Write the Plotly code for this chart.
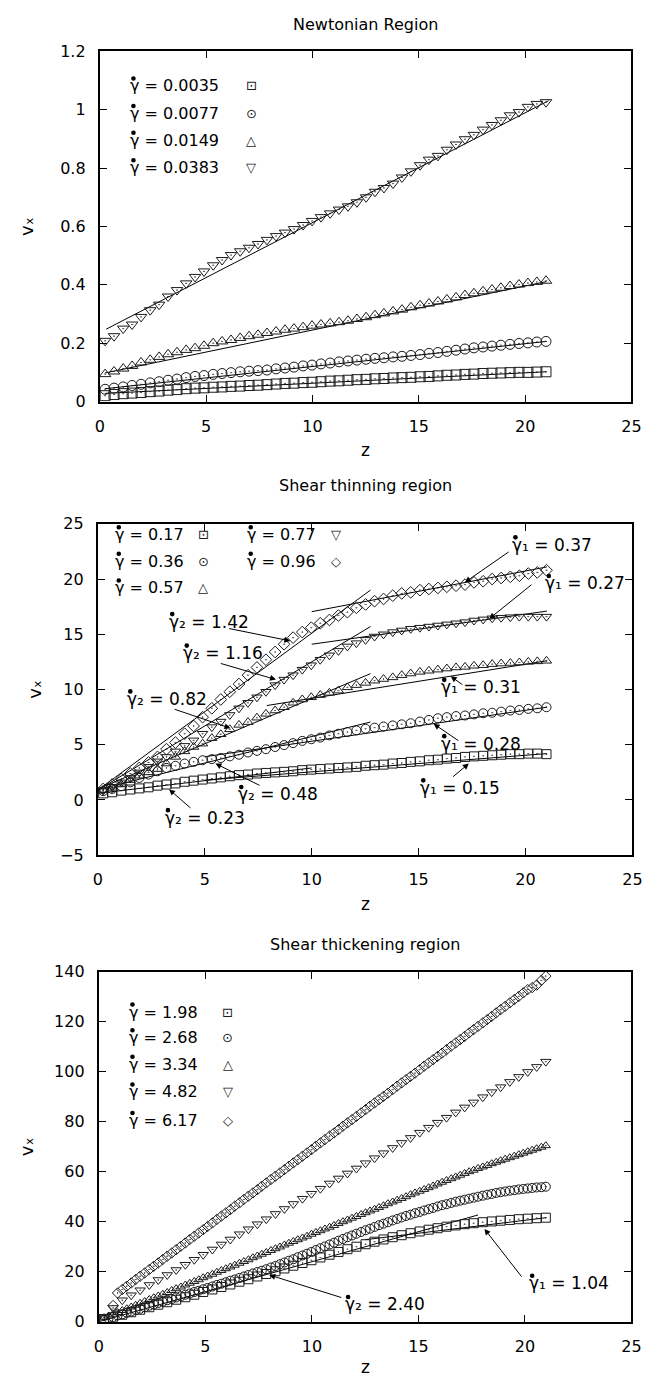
import plotly.graph_objects as go

W, H = 662, 1385
FONT = "DejaVu Sans, Liberation Sans, Arial, sans-serif"
GAM = "\u03b3"
SUBS = {"1": "\u2081", "2": "\u2082"}
VX = "v\u2093"

# ---------------- grids (z positions) ----------------
z50 = [0.25, 0.67, 1.10, 1.52, 1.94, 2.37, 2.79, 3.21, 3.63, 4.06, 4.48, 4.90, 5.33, 5.75,
       6.17, 6.60, 7.02, 7.44, 7.86, 8.29, 8.71, 9.13, 9.56, 9.98, 10.40, 10.83, 11.25,
       11.67, 12.09, 12.52, 12.94, 13.36, 13.79, 14.21, 14.63, 15.06, 15.48, 15.90, 16.32,
       16.75, 17.17, 17.59, 18.02, 18.44, 18.86, 19.29, 19.71, 20.13, 20.55, 20.98]

z99 = [0.25, 0.46, 0.67, 0.88, 1.10, 1.31, 1.52, 1.73, 1.94, 2.15, 2.37, 2.58, 2.79, 3.00,
       3.21, 3.42, 3.63, 3.85, 4.06, 4.27, 4.48, 4.69, 4.90, 5.11, 5.33, 5.54, 5.75, 5.96,
       6.17, 6.38, 6.60, 6.81, 7.02, 7.23, 7.44, 7.65, 7.86, 8.08, 8.29, 8.50, 8.71, 8.92,
       9.13, 9.34, 9.56, 9.77, 9.98, 10.19, 10.40, 10.61, 10.83, 11.04, 11.25, 11.46, 11.67,
       11.88, 12.09, 12.31, 12.52, 12.73, 12.94, 13.15, 13.36, 13.57, 13.79, 14.00, 14.21,
       14.42, 14.63, 14.84, 15.06, 15.27, 15.48, 15.69, 15.90, 16.11, 16.32, 16.54, 16.75,
       16.96, 17.17, 17.38, 17.59, 17.80, 18.02, 18.23, 18.44, 18.65, 18.86, 19.07, 19.29,
       19.50, 19.71, 19.92, 20.13, 20.34, 20.55, 20.77, 20.98]

# ---------------- Panel 1: Newtonian region ----------------
newt_labels = ["0.0035", "0.0077", "0.0149", "0.0383"]
newt_sq = [0.020, 0.024, 0.027, 0.029, 0.031, 0.034, 0.036, 0.039, 0.041, 0.044, 0.046, 0.047,
           0.049, 0.050, 0.052, 0.053, 0.055, 0.056, 0.058, 0.060, 0.062, 0.063, 0.065, 0.066,
           0.068, 0.070, 0.071, 0.073, 0.075, 0.076, 0.078, 0.079, 0.081, 0.082, 0.083, 0.085,
           0.086, 0.088, 0.090, 0.091, 0.093, 0.094, 0.096, 0.097, 0.098, 0.099, 0.100, 0.100,
           0.101, 0.102]
newt_ci = [0.042, 0.046, 0.050, 0.055, 0.059, 0.064, 0.068, 0.073, 0.077, 0.082, 0.086, 0.089,
           0.093, 0.096, 0.099, 0.102, 0.104, 0.106, 0.108, 0.112, 0.115, 0.118, 0.122, 0.125,
           0.129, 0.132, 0.136, 0.139, 0.142, 0.145, 0.148, 0.150, 0.153, 0.155, 0.158, 0.161,
           0.165, 0.168, 0.172, 0.176, 0.180, 0.184, 0.187, 0.190, 0.193, 0.196, 0.199, 0.201,
           0.204, 0.206]
newt_tu = [0.094, 0.103, 0.113, 0.122, 0.134, 0.143, 0.153, 0.162, 0.169, 0.177, 0.183, 0.191,
           0.200, 0.206, 0.211, 0.218, 0.224, 0.229, 0.235, 0.240, 0.246, 0.250, 0.255, 0.260,
           0.264, 0.268, 0.272, 0.277, 0.283, 0.289, 0.296, 0.302, 0.309, 0.315, 0.323, 0.330,
           0.336, 0.343, 0.350, 0.357, 0.365, 0.371, 0.378, 0.384, 0.390, 0.396, 0.401, 0.406,
           0.410, 0.414]
newt_td = [0.208, 0.224, 0.250, 0.264, 0.290, 0.313, 0.332, 0.360, 0.382, 0.405, 0.427, 0.446,
           0.467, 0.485, 0.502, 0.515, 0.527, 0.540, 0.554, 0.567, 0.579, 0.591, 0.605, 0.619,
           0.632, 0.645, 0.658, 0.669, 0.683, 0.700, 0.719, 0.732, 0.747, 0.768, 0.789, 0.810,
           0.829, 0.842, 0.863, 0.881, 0.899, 0.914, 0.932, 0.948, 0.964, 0.981, 0.992, 1.010,
           1.020, 1.026]
newt_fit_z = [[0.25, 21.0], [0.25, 21.0], [0.25, 21.0], [0.3, 21.1]]
newt_fit_v = [[0.028, 0.102], [0.044, 0.206], [0.098, 0.411], [0.248, 1.031]]

# ---------------- Panel 2: Shear thinning region ----------------
thin_labels = ["0.17", "0.36", "0.57", "0.77", "0.96"]
thin_sq = [0.6, 0.7, 0.85, 0.95, 1.05, 1.15, 1.3, 1.4, 1.5, 1.65, 1.75, 1.85, 1.95, 2.05, 2.15,
           2.25, 2.3, 2.4, 2.45, 2.5, 2.55, 2.6, 2.7, 2.75, 2.8, 2.85, 2.9, 2.95, 3.0, 3.1, 3.15,
           3.2, 3.3, 3.35, 3.45, 3.5, 3.6, 3.65, 3.75, 3.8, 3.9, 3.95, 4.0, 4.05, 4.1, 4.15, 4.15,
           4.2, 4.2, 4.15]
thin_ci = [0.8, 1.0, 1.25, 1.6, 2.0, 2.3, 2.6, 2.9, 3.1, 3.3, 3.45, 3.6, 3.7, 3.8, 3.95, 4.1,
           4.3, 4.45, 4.6, 4.8, 4.97, 5.15, 5.35, 5.5, 5.65, 5.85, 6.0, 6.15, 6.3, 6.45, 6.55,
           6.65, 6.75, 6.85, 6.95, 7.1, 7.25, 7.4, 7.5, 7.6, 7.65, 7.75, 7.85, 7.9, 8.0, 8.1,
           8.15, 8.25, 8.3, 8.4]
thin_tu = [0.9, 1.1, 1.4, 1.8, 2.2, 2.5, 2.8, 3.3, 3.9, 4.4, 4.8, 5.1, 5.6, 5.95, 6.4, 6.8,
           7.05, 7.45, 7.8, 8.1, 8.4, 8.8, 9.1, 9.3, 9.5, 9.7, 9.9, 10.2, 10.4, 10.6, 10.8,
           10.95, 11.1, 11.3, 11.45, 11.6, 11.7, 11.8, 11.9, 12.0, 12.05, 12.15, 12.2, 12.3,
           12.35, 12.4, 12.45, 12.5, 12.55, 12.6]
thin_td = [0.9, 1.2, 1.6, 2.0, 2.5, 3.0, 3.5, 3.9, 4.4, 4.9, 5.4, 6.0, 6.6, 7.1, 7.7, 8.3, 8.8,
           9.3, 9.8, 10.4, 10.9, 11.3, 11.8, 12.2, 12.7, 13.1, 13.5, 13.9, 14.2, 14.5, 14.8,
           15.0, 15.2, 15.35, 15.5, 15.6, 15.7, 15.8, 15.9, 16.0, 16.1, 16.25, 16.35, 16.45,
           16.5, 16.55, 16.6, 16.6, 16.6, 16.6]
thin_di = [1.0, 1.4, 1.9, 2.4, 2.9, 3.4, 3.9, 4.6, 5.2, 6.0, 6.7, 7.5, 8.3, 9.1, 9.8, 10.5,
           11.3, 12.0, 12.7, 13.4, 14.1, 14.7, 15.2, 15.6, 16.0, 16.3, 16.7, 17.0, 17.4, 17.7,
           18.0, 18.2, 18.5, 18.7, 18.8, 19.0, 19.1, 19.2, 19.3, 19.4, 19.5, 19.7, 19.8, 20.0,
           20.1, 20.2, 20.3, 20.5, 20.6, 20.8]
# fitted straight lines (gamma_2 near the wall, gamma_1 further out)
thin_fit_z = [[0.0, 10.0], [5.0, 21.0],       # squares
              [0.0, 12.75], [5.0, 21.0],      # circles
              [0.0, 12.75], [7.9, 21.0],      # triangles up
              [0.0, 12.75], [10.0, 21.0],     # triangles down
              [0.0, 12.75], [10.0, 21.0]]     # diamonds
thin_fit_v = [[0.6, 2.9], [1.8, 4.2],
              [0.95, 7.06], [3.92, 8.4],
              [0.99, 11.44], [8.55, 12.6],
              [0.9, 15.7], [14.1, 17.1],
              [0.9, 19.0], [17.05, 21.1]]
# labels: subscript, value, left edge / centre of label, arrow tail, arrow tip
thin_ann_sub = ["1", "1", "2", "2", "2", "1", "1", "2", "1", "2"]
thin_ann_val = ["0.37", "0.27", "1.42", "1.16", "0.82", "0.31", "0.28", "0.48", "0.15", "0.23"]
thin_ann_lz = [19.28, 20.84, 3.23, 3.91, 1.27, 15.95, 15.95, 6.46, 14.97, 3.03]
thin_ann_lv = [23.1, 19.6, 16.15, 13.3, 9.15, 10.2, 5.1, 0.5, 1.1, -1.6]
thin_ann_az = [19.28, 20.35, 6.07, 5.68, 3.52, 17.12, 16.93, 7.63, 16.54, 4.4]
thin_ann_av = [22.55, 19.6, 15.55, 12.4, 8.26, 10.34, 5.28, 1.26, 2.0, -0.83]
thin_ann_pz = [17.16, 18.3, 9.0, 8.33, 6.2, 16.5, 15.7, 5.5, 17.35, 3.33]
thin_ann_pv = [19.7, 16.4, 14.4, 10.9, 6.5, 11.2, 6.9, 3.3, 3.3, 0.96]

# ---------------- Panel 3: Shear thickening region ----------------
thick_labels = ["1.98", "2.68", "3.34", "4.82", "6.17"]
thick_sq = [0.8, 1.8, 2.8, 3.8, 4.8, 5.8, 6.8, 7.8, 8.8, 9.8, 10.8, 11.9, 12.9, 13.9, 14.9,
            16.0, 17.0, 18.1, 19.1, 20.2, 21.3, 22.4, 23.5, 24.6, 25.7, 26.8, 27.9, 29.0, 30.0,
            31.0, 32.0, 32.9, 33.8, 34.6, 35.4, 36.1, 36.8, 37.4, 38.0, 38.5, 39.0, 39.4, 39.8,
            40.1, 40.4, 40.7, 41.0, 41.2, 41.4, 41.6]
thick_ci = [0.8, 1.4, 1.9, 2.5, 3.0, 3.6, 4.1, 4.7, 5.2, 5.8, 6.4, 6.9, 7.5, 8.0, 8.6, 9.1,
            9.7, 10.2, 10.8, 11.3, 11.9, 12.4, 13.0, 13.5, 14.1, 14.7, 15.2, 15.8, 16.4, 16.9,
            17.5, 18.1, 18.7, 19.3, 19.9, 20.4, 21.0, 21.7, 22.3, 23.0, 23.7, 24.4, 25.0, 25.8,
            26.5, 27.2, 27.9, 28.7, 29.4, 30.1, 30.9, 31.6, 32.4, 33.1, 33.8, 34.5, 35.2, 35.9,
            36.6, 37.2, 37.9, 38.6, 39.2, 39.8, 40.5, 41.1, 41.7, 42.3, 42.8, 43.4, 43.9, 44.5,
            45.0, 45.5, 46.1, 46.6, 47.0, 47.5, 48.0, 48.4, 48.8, 49.2, 49.6, 50.0, 50.4, 50.8,
            51.1, 51.5, 51.8, 52.1, 52.4, 52.6, 52.9, 53.1, 53.3, 53.5, 53.7, 53.8, 54.0]
thick_tu = [1.6, 2.3, 3.0, 3.7, 4.5, 5.2, 5.9, 6.6, 7.4, 8.1, 8.9, 9.6, 10.3, 11.0, 11.7, 12.5,
            13.2, 13.9, 14.7, 15.4, 16.1, 16.8, 17.6, 18.3, 19.0, 19.8, 20.5, 21.2, 21.9, 22.6,
            23.4, 24.1, 24.8, 25.6, 26.3, 27.0, 27.7, 28.5, 29.2, 29.9, 30.7, 31.4, 32.1, 32.8,
            33.5, 34.2, 35.0, 35.7, 36.4, 37.1, 37.8, 38.5, 39.3, 40.0, 40.7, 41.4, 42.1, 42.9,
            43.6, 44.3, 45.0, 45.7, 46.4, 47.2, 47.9, 48.6, 49.3, 50.0, 50.8, 51.5, 52.2, 52.9,
            53.6, 54.3, 55.1, 55.8, 56.5, 57.2, 57.9, 58.6, 59.3, 60.0, 60.6, 61.3, 61.9, 62.5,
            63.2, 63.8, 64.4, 65.0, 65.6, 66.2, 66.8, 67.4, 68.0, 68.6, 69.2, 69.8, 70.4]
thick_td = [2.0, 5.5, 8.6, 10.6, 12.6, 14.7, 16.7, 18.7, 20.7, 22.8, 24.8, 26.8, 28.9, 30.9,
            32.9, 35.0, 37.0, 39.0, 41.0, 43.1, 45.1, 47.1, 49.2, 51.2, 53.2, 55.3, 57.3, 59.3,
            61.3, 63.4, 65.4, 67.4, 69.5, 71.5, 73.5, 75.6, 77.6, 79.6, 81.6, 83.7, 85.7, 87.7,
            89.8, 91.8, 93.8, 95.9, 97.9, 99.9, 101.9, 104.0]
thick_di = [None, None, 6.5, 11.5, 12.9, 14.2, 15.5, 16.9, 18.2, 19.5, 20.9, 22.2, 23.5, 24.9,
            26.2, 27.5, 28.8, 30.2, 31.5, 32.9, 34.2, 35.5, 36.8, 38.1, 39.5, 40.9, 42.2, 43.5,
            44.8, 46.2, 47.5, 48.9, 50.2, 51.5, 52.8, 54.2, 55.5, 56.9, 58.2, 59.5, 60.8, 62.2,
            63.5, 64.8, 66.2, 67.5, 68.8, 70.2, 71.5, 72.8, 74.2, 75.5, 76.8, 78.2, 79.5, 80.8,
            82.1, 83.5, 84.8, 86.2, 87.5, 88.8, 90.1, 91.4, 92.8, 94.2, 95.5, 96.8, 98.1, 99.4,
            100.8, 102.2, 103.5, 104.8, 106.1, 107.4, 108.8, 110.2, 111.5, 112.8, 114.1, 115.5,
            116.8, 118.1, 119.5, 120.8, 122.1, 123.5, 124.8, 126.1, 127.5, 128.8, 130.1, 131.5,
            132.8, 133.6, 134.6, 136.5, 138.2]
thick_fit_z = [[0.0, 17.8], [12.5, 21.0]]
thick_fit_v = [[0.0, 42.7], [32.8, 41.6]]
thick_ann_sub = ["2", "1"]
thick_ann_val = ["2.40", "1.04"]
thick_ann_lz = [11.45, 20.09]
thick_ann_lv = [6.9, 15.4]
thick_ann_az = [11.45, 19.9]
thick_ann_av = [9.5, 17.4]
thick_ann_pz = [8.0, 18.1]
thick_ann_pv = [18.7, 37.1]

# ---------------- helpers ----------------
SYM = ["square-open-dot", "circle-open-dot", "triangle-up-open-dot",
       "triangle-down-open-dot", "diamond-open-dot"]
GLYPH = ["\u22a1", "\u2299", "\u25b3", "\u25bd", "\u25c7"]
INK = "#1a1a1a"

fig = go.Figure()


def add_markers(xs, ys, sym, size, ax):
    fig.add_trace(go.Scatter(
        x=xs, y=ys, mode="markers", xaxis="x" + ax, yaxis="y" + ax, showlegend=False,
        marker=dict(symbol=sym, size=size, color=INK, line=dict(width=1, color=INK))))


def add_line(xs, ys, ax):
    fig.add_trace(go.Scatter(
        x=xs, y=ys, mode="lines", xaxis="x" + ax, yaxis="y" + ax, showlegend=False,
        line=dict(color="black", width=1)))


# panel 1
for zz, vv in zip(newt_fit_z, newt_fit_v):
    add_line(zz, vv, "")
for i, s in enumerate([newt_sq, newt_ci, newt_tu, newt_td]):
    add_markers(z50, s, SYM[i], 10, "")

# panel 2
for zz, vv in zip(thin_fit_z, thin_fit_v):
    add_line(zz, vv, "2")
for i, s in enumerate([thin_sq, thin_ci, thin_tu, thin_td, thin_di]):
    add_markers(z50, s, SYM[i], 9, "2")

# panel 3
for zz, vv in zip(thick_fit_z, thick_fit_v):
    add_line(zz, vv, "3")
add_markers(z50, thick_sq, SYM[0], 9, "3")
add_markers(z99, thick_ci, SYM[1], 9, "3")
add_markers(z99, thick_tu, SYM[2], 8, "3")
add_markers(z50, thick_td, SYM[3], 9, "3")
add_markers(z99, thick_di, SYM[4], 8, "3")


def px(x):
    return x / W


def py(y):
    return 1 - y / H


axis_common = dict(showline=True, linecolor="black", linewidth=2, mirror="ticks",
                   ticks="inside", ticklen=7, tickwidth=1, tickcolor="black",
                   showgrid=False, zeroline=False, ticklabelstandoff=9,
                   tickfont=dict(family=FONT, size=16, color="black"))

panels = [  # (left, right, top, bottom) in px, yrange, dtick
    ((97, 641, 43, 398), [0, 1.2], 0.2),
    ((95, 642, 522, 858), [-5, 25], 5),
    ((96, 641, 976, 1331), [0, 140], 20),
]
layout_axes = {}
for k, ((l, r, t, b), yr, dt) in enumerate(panels):
    sfx = "" if k == 0 else str(k + 1)
    layout_axes["xaxis" + sfx] = dict(axis_common, domain=[px(l), px(r)], range=[0, 25],
                                      dtick=5, anchor="y" + sfx)
    layout_axes["yaxis" + sfx] = dict(axis_common, domain=[py(b), py(t)], range=yr,
                                      dtick=dt, anchor="x" + sfx)

ann = []
shapes = []
titles = ["Newtonian Region", "Shear thinning region", "Shear thickening region"]
title_y = [16, 483, 949]
zlab_y = [447, 907, 1377]
vx_x = [22, 30, 22]
for k, ((l, r, t, b), yr, dt) in enumerate(panels):
    cx = (l + r) / 2
    ann.append(dict(text=titles[k], x=px(cx), y=py(title_y[k]), xref="paper", yref="paper",
                    showarrow=False, xanchor="center", yanchor="middle",
                    font=dict(family=FONT, size=16, color="black")))
    ann.append(dict(text="z", x=px(cx), y=py(zlab_y[k]), xref="paper", yref="paper",
                    showarrow=False, xanchor="center", yanchor="middle",
                    font=dict(family=FONT, size=17, color="black")))
    ann.append(dict(text=VX, x=px(vx_x[k]), y=py((t + b) / 2), xref="paper",
                    yref="paper", showarrow=False, textangle=-90, xanchor="center",
                    yanchor="middle", font=dict(family=FONT, size=18, color="black")))


def gamma_dot(x, y, xref, yref):
    # the time-derivative dot over the gamma, offset in pixels from the label anchor
    shapes.append(dict(type="circle", xref=xref, yref=yref, xsizemode="pixel",
                       ysizemode="pixel", xanchor=x, yanchor=y, x0=3.0, x1=7.6,
                       y0=5.2, y1=9.8, fillcolor="black", line=dict(width=0)))


def label_ann(body, x, y, xref, yref, size=16):
    ann.append(dict(text=body, x=x, y=y, xref=xref, yref=yref, showarrow=False,
                    xanchor="left", yanchor="middle", align="left",
                    font=dict(family=FONT, size=size, color="black")))
    gamma_dot(x, y, xref, yref)


def legend_entry(label, glyph, tx, gx, y):
    label_ann(GAM + " = " + label, px(tx), py(y), "paper", "paper")
    ann.append(dict(text=glyph, x=px(gx), y=py(y), xref="paper", yref="paper",
                    showarrow=False, xanchor="center", yanchor="middle",
                    font=dict(family="DejaVu Sans", size=13, color=INK)))


for i, lab in enumerate(newt_labels):
    legend_entry(lab, GLYPH[i], 126, 252, [78, 106, 133, 161][i])
for i, lab in enumerate(thin_labels):
    col = 0 if i < 3 else 1
    row = i if i < 3 else i - 3
    legend_entry(lab, GLYPH[i], [111, 246][col], [203, 339][col], [533, 560, 587][row])
for i, lab in enumerate(thick_labels):
    legend_entry(lab, GLYPH[i], 125, 228, [1017, 1043, 1070, 1098, 1127][i])


def arrow_ann(sub, val, lz, lv, az, av, pz, pv, ax):
    xr, yr = "x" + ax, "y" + ax
    label_ann(GAM + SUBS[sub] + " = " + val, lz, lv, xr, yr, size=17)
    ann.append(dict(text="", x=pz, y=pv, xref=xr, yref=yr, ax=az, ay=av, axref=xr,
                    ayref=yr, showarrow=True, arrowhead=2, arrowsize=1.2, arrowwidth=1,
                    arrowcolor="black", standoff=0, startstandoff=0))


for a in zip(thin_ann_sub, thin_ann_val, thin_ann_lz, thin_ann_lv, thin_ann_az, thin_ann_av,
             thin_ann_pz, thin_ann_pv):
    arrow_ann(*a, "2")
for a in zip(thick_ann_sub, thick_ann_val, thick_ann_lz, thick_ann_lv, thick_ann_az,
             thick_ann_av, thick_ann_pz, thick_ann_pv):
    arrow_ann(*a, "3")

fig.update_layout(width=W, height=H, margin=dict(l=0, r=0, t=0, b=0),
                  paper_bgcolor="white", plot_bgcolor="white", showlegend=False,
                  annotations=ann, shapes=shapes, font=dict(family=FONT, color="black"),
                  **layout_axes)

fig.write_html("out.html", config={"displayModeBar": False},
               post_script="document.body.style.margin='0';"
                           "document.body.style.overflow='hidden';")
